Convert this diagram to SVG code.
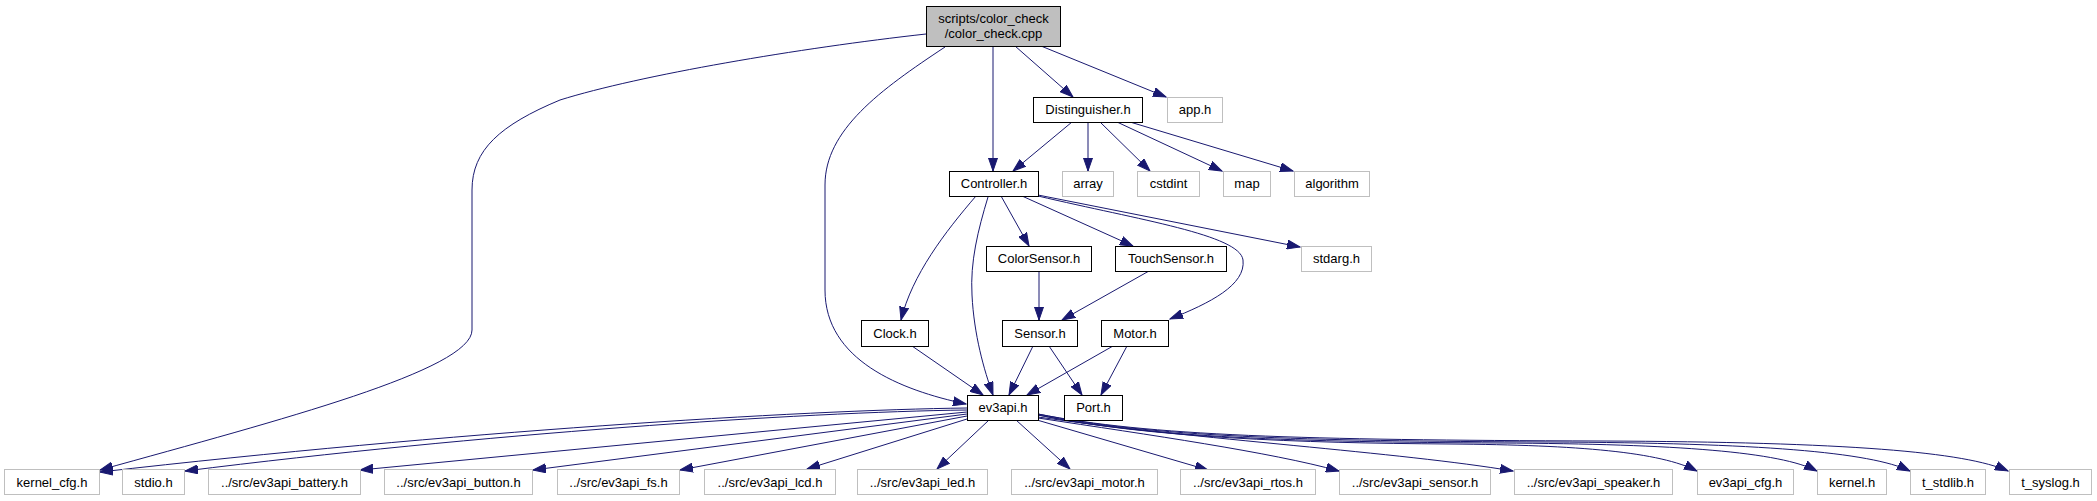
<svg xmlns="http://www.w3.org/2000/svg" width="2097" height="501" viewBox="0 0 2097 501">
<style>
rect{stroke-width:1}
.d rect{fill:#ffffff;stroke:#000000}
.r rect{fill:#bfbfbf;stroke:#000000}
.u rect{fill:#ffffff;stroke:#bfbfbf}
text{font-family:"Liberation Sans",Arial,Helvetica,sans-serif;font-size:13px;text-anchor:middle;fill:#000000}
#edges path{fill:none;stroke:#191970;stroke-width:1;marker-end:url(#arr)}
</style>
<defs>
<marker id="arr" markerUnits="userSpaceOnUse" markerWidth="14" markerHeight="10" refX="13" refY="5" orient="auto" viewBox="0 0 14 10">
<path d="M0,0.5 L13,5 L0,9.5 z" fill="#191970" stroke="#191970" stroke-width="1"/>
</marker>
</defs>
<rect width="2097" height="501" fill="#ffffff"/>
<g id="edges">
<path d="M926,34 C800,48 640,75 560,100 C500,125 472,150 472,190 L472,330 C472,370 280,420 100,470"/>
<path d="M945,47 C880,90 825,130 825,185 L825,290 C825,360 900,390 966,404"/>
<path d="M993,46 L993,171"/>
<path d="M1015,46 L1073,97"/>
<path d="M1041,46 L1166,97"/>
<path d="M1072,122 L1013,171"/>
<path d="M1088,122 L1088,171"/>
<path d="M1100,122 L1150,171"/>
<path d="M1117,122 L1222,171"/>
<path d="M1130,122 L1293,171"/>
<path d="M1001,196 L1029,246"/>
<path d="M1022,196 L1133,246"/>
<path d="M1038,195 L1300,247"/>
<path d="M1038,196 C1140,220 1240,235 1243,260 C1246,285 1210,303 1170,319"/>
<path d="M976,196 C945,232 912,275 901,320"/>
<path d="M988,197 C978,230 970,262 972,295 C974,335 984,370 993,395"/>
<path d="M912,346 L983,395"/>
<path d="M1039,271 L1039,320"/>
<path d="M1149,271 L1062,320"/>
<path d="M1033,346 L1009,395"/>
<path d="M1049,346 L1082,395"/>
<path d="M1113,346 L1027,395"/>
<path d="M1127,346 L1101,395"/>
<path d="M967,408 C800,410 450,432 100,472"/>
<path d="M967,410 C800,412 480,434 185,471"/>
<path d="M967,412 L360,470"/>
<path d="M967,414 L533,470"/>
<path d="M967,416 L680,470"/>
<path d="M967,419 L807,469"/>
<path d="M989,420 L937,469"/>
<path d="M1016,420 L1070,469"/>
<path d="M1037,420 L1208,470"/>
<path d="M1038,418 C1150,435 1270,452 1339,471"/>
<path d="M1038,417 C1200,440 1400,452 1513,471"/>
<path d="M1038,415 C1150,438 1300,443 1450,444 C1580,445 1660,452 1697,471"/>
<path d="M1038,415 C1150,438 1300,442 1500,443 C1680,444 1780,452 1817,471"/>
<path d="M1038,414 C1150,437 1300,441 1550,442 C1760,443 1870,452 1910,471"/>
<path d="M1038,414 C1150,436 1300,440 1600,441 C1850,442 1965,452 2008,471"/>
</g>
<g id="node_root" class="r"><rect x="926.5" y="6.5" width="134" height="40"/><text x="993.5" y="23">scripts/color_check</text><text x="993.5" y="38">/color_check.cpp</text></g>
<g id="node_distinguisher" class="d"><rect x="1033.5" y="97.5" width="109" height="25"/><text x="1088" y="114">Distinguisher.h</text></g>
<g id="node_app" class="u"><rect x="1167.5" y="97.5" width="55" height="25"/><text x="1195" y="114">app.h</text></g>
<g id="node_controller" class="d"><rect x="949.5" y="171.5" width="89" height="25"/><text x="994" y="188">Controller.h</text></g>
<g id="node_array" class="u"><rect x="1062.5" y="171.5" width="51" height="25"/><text x="1088" y="188">array</text></g>
<g id="node_cstdint" class="u"><rect x="1137.5" y="171.5" width="62" height="25"/><text x="1168.5" y="188">cstdint</text></g>
<g id="node_map" class="u"><rect x="1223.5" y="171.5" width="47" height="25"/><text x="1247" y="188">map</text></g>
<g id="node_algorithm" class="u"><rect x="1294.5" y="171.5" width="75" height="25"/><text x="1332" y="188">algorithm</text></g>
<g id="node_colorsensor" class="d"><rect x="986.5" y="246.5" width="105" height="25"/><text x="1039" y="263">ColorSensor.h</text></g>
<g id="node_touchsensor" class="d"><rect x="1115.5" y="246.5" width="111" height="25"/><text x="1171" y="263">TouchSensor.h</text></g>
<g id="node_stdarg" class="u"><rect x="1301.5" y="246.5" width="70" height="25"/><text x="1336.5" y="263">stdarg.h</text></g>
<g id="node_clock" class="d"><rect x="861.5" y="320.5" width="67" height="26"/><text x="895" y="337.5">Clock.h</text></g>
<g id="node_sensor" class="d"><rect x="1002.5" y="320.5" width="75" height="26"/><text x="1040" y="337.5">Sensor.h</text></g>
<g id="node_motor" class="d"><rect x="1101.5" y="320.5" width="67" height="26"/><text x="1135" y="337.5">Motor.h</text></g>
<g id="node_ev3api" class="d"><rect x="967.5" y="395.5" width="71" height="25"/><text x="1003" y="412">ev3api.h</text></g>
<g id="node_port" class="d"><rect x="1064.5" y="395.5" width="58" height="25"/><text x="1093.5" y="412">Port.h</text></g>
<g id="node_kernel_cfg" class="u"><rect x="4.5" y="469.5" width="95" height="25"/><text x="52" y="486.5">kernel_cfg.h</text></g>
<g id="node_stdio" class="u"><rect x="122.5" y="469.5" width="62" height="25"/><text x="153.5" y="486.5">stdio.h</text></g>
<g id="node_battery" class="u"><rect x="208.5" y="469.5" width="152" height="25"/><text x="284.5" y="486.5">../src/ev3api_battery.h</text></g>
<g id="node_button" class="u"><rect x="384.5" y="469.5" width="148" height="25"/><text x="458.5" y="486.5">../src/ev3api_button.h</text></g>
<g id="node_fs" class="u"><rect x="557.5" y="469.5" width="122" height="25"/><text x="618.5" y="486.5">../src/ev3api_fs.h</text></g>
<g id="node_lcd" class="u"><rect x="704.5" y="469.5" width="131" height="25"/><text x="770" y="486.5">../src/ev3api_lcd.h</text></g>
<g id="node_led" class="u"><rect x="857.5" y="469.5" width="130" height="25"/><text x="922.5" y="486.5">../src/ev3api_led.h</text></g>
<g id="node_motor_api" class="u"><rect x="1011.5" y="469.5" width="146" height="25"/><text x="1084.5" y="486.5">../src/ev3api_motor.h</text></g>
<g id="node_rtos" class="u"><rect x="1180.5" y="469.5" width="135" height="25"/><text x="1248" y="486.5">../src/ev3api_rtos.h</text></g>
<g id="node_sensor_api" class="u"><rect x="1339.5" y="469.5" width="151" height="25"/><text x="1415" y="486.5">../src/ev3api_sensor.h</text></g>
<g id="node_speaker" class="u"><rect x="1514.5" y="469.5" width="158" height="25"/><text x="1593.5" y="486.5">../src/ev3api_speaker.h</text></g>
<g id="node_ev3api_cfg" class="u"><rect x="1697.5" y="469.5" width="96" height="25"/><text x="1745.5" y="486.5">ev3api_cfg.h</text></g>
<g id="node_kernel" class="u"><rect x="1817.5" y="469.5" width="69" height="25"/><text x="1852" y="486.5">kernel.h</text></g>
<g id="node_t_stdlib" class="u"><rect x="1910.5" y="469.5" width="75" height="25"/><text x="1948" y="486.5">t_stdlib.h</text></g>
<g id="node_t_syslog" class="u"><rect x="2009.5" y="469.5" width="82" height="25"/><text x="2050.5" y="486.5">t_syslog.h</text></g>
</svg>
